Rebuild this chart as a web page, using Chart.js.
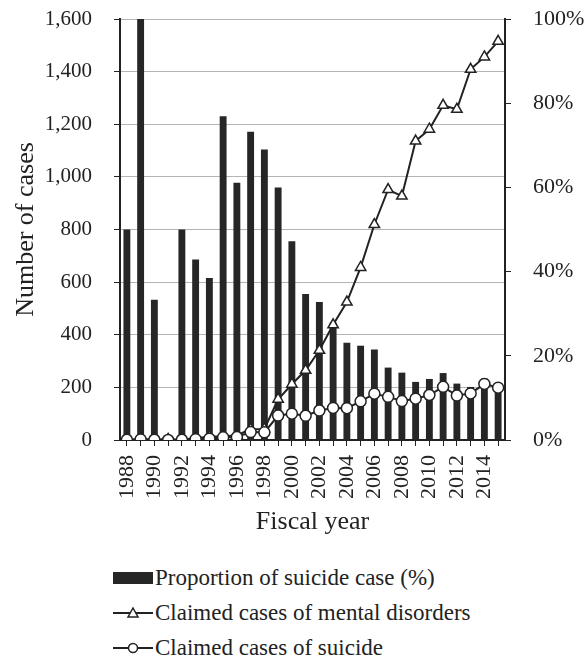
<!DOCTYPE html>
<html lang="en">
  <head>
    <title>Mental disorder claims</title>
    <meta charset="utf-8" />
    <script src="https://cdn.jsdelivr.net/npm/chart.js@4.4.1/dist/chart.umd.min.js"></script>
    <style>
      body {
        margin: 0;
        background: #fff;
        font-family: "Liberation Serif", "Times New Roman", serif;
        color: #222;
      }
      .wrap {
        position: relative;
        width: 585px;
        height: 660px;
      }
      #legend {
        position: absolute;
        left: 113px;
        top: 560px;
      }
      #legend div {
        height: 35px;
        display: flex;
        align-items: center;
        font-size: 23px;
        white-space: nowrap;
      }
      #legend svg {
        flex: none;
      }
    </style>
  </head>
  <body>
    <div class="wrap">
      <canvas id="chart" width="585" height="545"></canvas>
      <div id="legend"></div>
    </div>

    <script>
      // fiscal years
      var years = [
        "1988", "1989", "1990", "1991", "1992", "1993", "1994", "1995", "1996", "1997",
        "1998", "1999", "2000", "2001", "2002", "2003", "2004", "2005", "2006", "2007",
        "2008", "2009", "2010", "2011", "2012", "2013", "2014", "2015"
      ];
      // proportion of suicide case (%), right axis
      var suicideShare = [
        50, 100, 33.3, 0, 50, 42.9, 38.5, 76.9, 61.1, 73.2,
        69.0, 60.0, 47.2, 34.7, 32.8, 27.9, 23.1, 22.4, 21.5, 17.2,
        16.0, 13.8, 14.5, 15.9, 13.4, 12.6, 14.6, 13.1
      ];
      // claimed cases of mental disorders, left axis
      var mentalClaims = [
        2, 2, 3, 2, 2, 7, 13, 13, 18, 41,
        42, 155, 212, 265, 341, 438, 524, 656, 819, 952,
        927, 1136, 1181, 1272, 1257, 1409, 1456, 1515
      ];
      // claimed cases of suicide, left axis
      var suicideClaims = [
        1, 2, 1, 0, 1, 3, 5, 10, 11, 30,
        29, 93, 100, 92, 112, 122, 121, 147, 176, 164,
        148, 157, 171, 202, 169, 177, 213, 199
      ];
      var leftTicks = [0, 200, 400, 600, 800, 1000, 1200, 1400, 1600];
      var rightTicks = [0, 20, 40, 60, 80, 100];

      var FONT = "'Liberation Serif', 'Times New Roman', serif";
      var INK = "#222";

      // fixed box sizes so the plot area lands where the original one is
      function fixBox(w, h) {
        return function (s) {
          if (w) s.width = w;
          if (h) s.height = h;
          s.paddingTop = 0;
          s.paddingBottom = 0;
          s.paddingLeft = 0;
          s.paddingRight = 0;
        };
      }

      var ctx = document.getElementById("chart");
      var chart = new Chart(ctx, {
        type: "bar",
        data: {
          labels: years,
          datasets: [
            {
              type: "line",
              label: "Claimed cases of suicide",
              data: suicideClaims,
              yAxisID: "y",
              borderColor: INK,
              borderWidth: 2,
              pointStyle: "circle",
              pointRadius: 5.5,
              pointBorderWidth: 1.5,
              pointBackgroundColor: "#fff",
              pointBorderColor: INK,
              order: 1,
            },
            {
              type: "line",
              label: "Claimed cases of mental disorders",
              data: mentalClaims,
              yAxisID: "y",
              borderColor: INK,
              borderWidth: 2,
              pointStyle: "triangle",
              pointRadius: 6,
              pointBorderWidth: 1.5,
              pointBackgroundColor: "#fff",
              pointBorderColor: INK,
              order: 2,
            },
            {
              label: "Proportion of suicide case (%)",
              data: suicideShare,
              yAxisID: "y1",
              backgroundColor: "#262626",
              barPercentage: 0.5,
              categoryPercentage: 1,
              order: 3,
            },
          ],
        },
        options: {
          responsive: false,
          animation: false,
          devicePixelRatio: 1,
          layout: { padding: { top: 19, left: 0, right: 0, bottom: 0 } },
          plugins: {
            legend: { display: false },
            tooltip: { enabled: false },
          },
          scales: {
            x: {
              grid: {
                offset: false,
                drawOnChartArea: false,
                tickLength: 6,
                tickColor: INK,
              },
              border: { color: INK, width: 2 },
              ticks: {
                autoSkip: false,
                minRotation: 90,
                maxRotation: 90,
                padding: 9,
                color: INK,
                font: { family: FONT, size: 22 },
                callback: function (v, i) {
                  return i % 2 === 0 ? years[i] : "";
                },
              },
              title: {
                display: true,
                text: "Fiscal year",
                color: INK,
                font: { family: FONT, size: 26 },
                padding: { top: 0, bottom: 7 },
              },
              afterFit: fixBox(0, 105),
            },
            y: {
              position: "left",
              min: 0,
              max: 1600,
              afterBuildTicks: function (s) {
                s.ticks = leftTicks.map(function (v) {
                  return { value: v };
                });
              },
              grid: {
                color: "#b4b4b4",
                lineWidth: 1,
                tickLength: 6,
                tickColor: INK,
              },
              border: { color: INK, width: 2 },
              ticks: {
                padding: 22,
                color: INK,
                font: { family: FONT, size: 21 },
                callback: function (v) {
                  return v.toLocaleString("en-US");
                },
              },
              title: {
                display: true,
                text: "Number of cases",
                color: INK,
                font: { family: FONT, size: 26 },
                padding: { top: 11, bottom: 0 },
              },
              afterFit: fixBox(120, 0),
            },
            y1: {
              position: "right",
              min: 0,
              max: 100,
              afterBuildTicks: function (s) {
                s.ticks = rightTicks.map(function (v) {
                  return { value: v };
                });
              },
              grid: {
                drawOnChartArea: false,
                tickLength: 6,
                tickColor: INK,
              },
              border: { color: INK, width: 2 },
              ticks: {
                padding: 22,
                color: INK,
                font: { family: FONT, size: 22 },
                callback: function (v) {
                  return v + "%";
                },
              },
              afterFit: fixBox(80, 0),
            },
          },
        },
      });

      // html legend, one entry per row like the original figure
      function swatch(kind) {
        var svg = '<svg width="42" height="16" viewBox="0 0 42 16">';
        if (kind === "bar") {
          svg += '<rect x="0" y="2" width="40" height="12" fill="#262626"/>';
        } else {
          svg += '<line x1="0" y1="8" x2="40" y2="8" stroke="' + INK + '" stroke-width="2"/>';
          if (kind === "triangle") {
            svg += '<polygon points="20,3 25,12 15,12" fill="#fff" stroke="' + INK + '" stroke-width="1.5"/>';
          } else {
            svg += '<circle cx="20" cy="8" r="4.5" fill="#fff" stroke="' + INK + '" stroke-width="1.5"/>';
          }
        }
        return svg + "</svg>";
      }
      var legendRows = [
        ["bar", chart.data.datasets[2].label],
        ["triangle", chart.data.datasets[1].label],
        ["circle", chart.data.datasets[0].label],
      ];
      var html = [];
      legendRows.forEach(function (r) {
        html.push("<div>" + swatch(r[0]) + "<span>" + r[1] + "</span></div>");
      });
      document.getElementById("legend").innerHTML = html.join("");
    </script>
  </body>
</html>
